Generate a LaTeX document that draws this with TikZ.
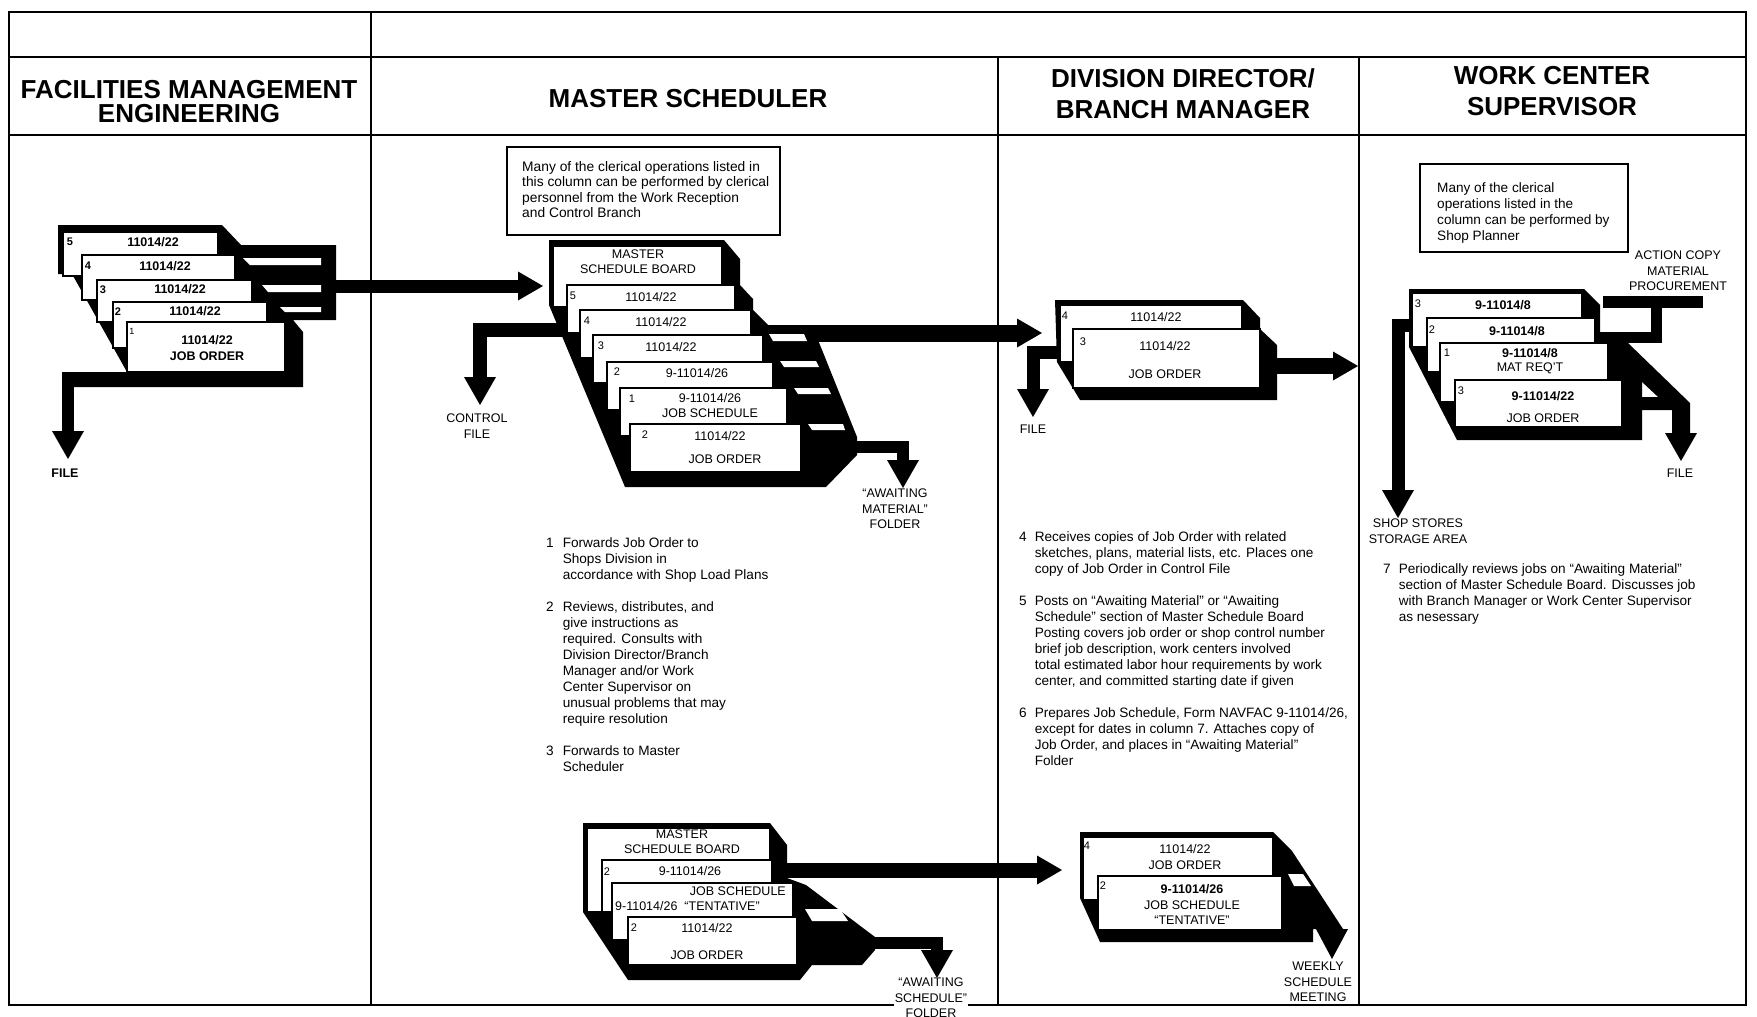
\documentclass[tikz,border=0pt]{standalone}
\usepackage{fontspec}
\setmainfont{Liberation Sans}
\usetikzlibrary{arrows.meta}
\newcommand\crd[4]{\filldraw[cardst] (#1,#2) rectangle (#3,#4);}
\begin{document}
\begin{tikzpicture}[x=1pt,y=-1pt,
 frame/.style={line width=2pt},
 cardst/.style={fill=white,draw=black,line width=1.3pt},
 mass/.style={fill=black},
 gap/.style={fill=white},
 band/.style={draw=black,line width=#1},
 flowv/.style={draw=black,line width=#1,-{Triangle[width=32pt,length=28pt,line width=0pt]}},
 flowh/.style={draw=black,line width=#1,-{Triangle[width=29pt,length=25pt,line width=0pt]}},
 hdr/.style={font=\fontsize{26}{24}\selectfont\bfseries,align=center,inner sep=0pt},
 body/.style={font=\fontsize{13.6}{16}\selectfont,inner sep=0pt},
 note/.style={font=\fontsize{13.8}{15.5}\selectfont,align=left,inner sep=0pt},
 lab/.style={font=\fontsize{12.5}{15.5}\selectfont,align=center,inner sep=0pt},
 ct/.style={font=\fontsize{12.5}{15}\selectfont,inner sep=0pt,align=center},
 cb/.style={font=\fontsize{12.5}{15}\selectfont\bfseries,inner sep=0pt,align=center},
 nm/.style={font=\fontsize{11}{13}\selectfont,inner sep=0pt},
]
\useasboundingbox (0,0) rectangle (1757,1017);
\fill[white] (0,0) rectangle (1757,1017);

% ---------------- frame ----------------
\draw[frame] (9,12) rectangle (1746,1005);
\draw[frame] (9,57) -- (1746,57);
\draw[frame] (9,135) -- (1746,135);
\draw[frame] (371,12) -- (371,1005);
\draw[frame] (998,57) -- (998,1005);
\draw[frame] (1359,57) -- (1359,1005);

\node[hdr] (h1) at (189,102) {FACILITIES MANAGEMENT\\ENGINEERING};
\node[hdr] (h2) at (688,99) {MASTER SCHEDULER};
\node[hdr,font=\fontsize{26}{31}\selectfont\bfseries] (h3) at (1183,94) {DIVISION DIRECTOR/\\BRANCH MANAGER};
\node[hdr,font=\fontsize{26}{31}\selectfont\bfseries] (h4) at (1552,91) {WORK CENTER\\SUPERVISOR};

% ---------------- FME stack ----------------
\fill[mass] (58,225) -- (222,225) -- (241,245) -- (336,245) -- (336,320) -- (293,320) -- (303,332) -- (303,387) -- (62,387) -- (62,372) -- (127,372) -- (72,274) -- (58,274) -- cycle;
\coordinate (fmeA) at (68,380);
\coordinate (fmeB) at (68,459);
\draw[flowv=12pt] (fmeA) -- (fmeB);
\coordinate (fmeOut) at (334,286);
\coordinate (msIn) at (543,286);
\draw[flowh=13pt] (fmeOut) -- (msIn);
\fill[gap] (243,258) -- (321,258) -- (321,265) -- (250,265) -- cycle;
\fill[gap] (262,285) -- (321,285) -- (321,292) -- (268,292) -- cycle;
\fill[gap] (280,307) -- (321,307) -- (321,312) -- (285,312) -- cycle;
\crd{63}{232}{218}{276}
\crd{82}{255}{235}{300}
\crd{97}{280}{252}{322}
\crd{113}{302}{267}{348}
\crd{127}{322}{285}{372}
\node[nm,font=\fontsize{11}{13}\selectfont\bfseries] (f5n) at (70,242) {5};
\node[cb] (f5t) at (153,242) {11014/22};
\node[nm,font=\fontsize{11}{13}\selectfont\bfseries] (f4n) at (88,266) {4};
\node[cb] (f4t) at (165,266) {11014/22};
\node[nm,font=\fontsize{11}{13}\selectfont\bfseries] (f3n) at (103,290) {3};
\node[cb] (f3t) at (180,289) {11014/22};
\node[nm,font=\fontsize{11}{13}\selectfont\bfseries] (f2n) at (118,312) {2};
\node[cb] (f2t) at (195,311) {11014/22};
\node[nm,font=\fontsize{9}{11}\selectfont] (f1n) at (132,331) {1};
\node[cb] (f1t) at (207,340) {11014/22};
\node[cb] (f1u) at (207,356) {JOB ORDER};
\node[lab,font=\fontsize{12.5}{15}\selectfont\bfseries] (fmefile) at (65,473) {FILE};

% ---------------- Master scheduler top ----------------
\draw[line width=1.3pt] (507,147) rectangle (780,235);
\node[note,anchor=north west] (msnote) at (522,161) {Many of the clerical operations listed in\\this column can be performed by clerical\\personnel from the Work Reception\\and Control Branch};

\fill[mass] (549,240) -- (724,240) -- (740,259) -- (740,285) -- (753,299) -- (753,310) -- (768,325) -- (812,325) -- (857,437) -- (857,455) -- (826,487) -- (625,487) -- (549,305) -- cycle;
\coordinate (ctrlA) at (570,330);
\coordinate (ctrlB) at (480,405);
\draw[flowv=14pt] (ctrlA) -- (ctrlB |- ctrlA) -- (ctrlB);
\coordinate (awA) at (850,447);
\coordinate (awB) at (903,488);
\draw[flowv=12pt] (awA) -- (awB |- awA) -- (awB);
\coordinate (msOut) at (805,333);
\coordinate (ddIn) at (1042,333);
\draw[flowh=17pt] (msOut) -- (ddIn);
\fill[gap] (769,334) -- (804,334) -- (807,341) -- (773,341) -- cycle;
\fill[gap] (780,361) -- (816,361) -- (819,367) -- (784,367) -- cycle;
\fill[gap] (794,388) -- (828,388) -- (831,394) -- (798,394) -- cycle;
\fill[gap] (808,424) -- (843,424) -- (845,430) -- (812,430) -- cycle;
\crd{553}{246}{722}{307}
\crd{567}{285}{735}{333}
\crd{580}{310}{751}{358}
\crd{593}{335}{763}{383}
\crd{607}{362}{773}{410}
\crd{620}{388}{787}{436}
\crd{630}{424}{801}{472}
\node[ct] (m0t) at (638,262) {MASTER\\SCHEDULE BOARD};
\node[nm] (m5n) at (573,296) {5};
\node[ct] (m5t) at (651,297) {11014/22};
\node[nm] (m4n) at (587,321) {4};
\node[ct] (m4t) at (661,322) {11014/22};
\node[nm] (m3n) at (601,346) {3};
\node[ct] (m3t) at (671,347) {11014/22};
\node[nm] (m2n) at (617,372) {2};
\node[ct] (m2t) at (697,373) {9-11014/26};
\node[nm] (m1n) at (632,399) {1};
\node[ct] (m1t) at (710,406) {9-11014/26\\JOB SCHEDULE};
\node[nm] (mjn) at (645,435) {2};
\node[ct] (mjt) at (720,436) {11014/22};
\node[ct] (mju) at (725,459) {JOB ORDER};
\node[lab] (ctrlfile) at (477,426) {CONTROL\\FILE};
\node[lab] (awmat) at (895,509) {``AWAITING\\MATERIAL''\\FOLDER};

\node[body,anchor=north west] (mstext) at (546,536) {%
\begin{tabular}{@{}l@{\hspace{9pt}}l@{}}
1 & Forwards Job Order to\\
  & Shops Division in\\
  & accordance with Shop Load Plans\\[16pt]
2 & Reviews, distributes, and\\
  & give instructions as\\
  & required. Consults with\\
  & Division Director/Branch\\
  & Manager and/or Work\\
  & Center Supervisor on\\
  & unusual problems that may\\
  & require resolution\\[16pt]
3 & Forwards to Master\\
  & Scheduler
\end{tabular}};

% ---------------- Division director top ----------------
\fill[mass] (1055,300) -- (1243,300) -- (1260,318) -- (1260,329) -- (1277,345) -- (1277,400) -- (1080,400) -- (1057,362) -- cycle;
\coordinate (ddfA) at (1065,352);
\coordinate (ddfB) at (1033,417);
\draw[flowv=13pt] (ddfA) -- (ddfB |- ddfA) -- (ddfB);
\coordinate (ddOut) at (1274,366);
\coordinate (wcIn) at (1358,366);
\draw[flowh=16pt] (ddOut) -- (wcIn);
\crd{1060}{305}{1242}{362}
\crd{1073}{329}{1260}{388}
\node[nm] (d4n) at (1065,316) {4};
\node[ct] (d4t) at (1156,317) {11014/22};
\node[nm] (d3n) at (1083,342) {3};
\node[ct] (d3t) at (1165,346) {11014/22};
\node[ct] (d3u) at (1165,374) {JOB ORDER};
\node[lab] (ddfile) at (1033,429) {FILE};

\node[body,anchor=north west] (ddtext) at (1019,530) {%
\begin{tabular}{@{}l@{\hspace{8pt}}l@{}}
4 & Receives copies of Job Order with related\\
  & sketches, plans, material lists, etc. Places one\\
  & copy of Job Order in Control File\\[16pt]
5 & Posts on ``Awaiting Material'' or ``Awaiting\\
  & Schedule'' section of Master Schedule Board\\
  & Posting covers job order or shop control number\\
  & brief job description, work centers involved\\
  & total estimated labor hour requirements by work\\
  & center, and committed starting date if given\\[16pt]
6 & Prepares Job Schedule, Form NAVFAC 9-11014/26,\\
  & except for dates in column 7. Attaches copy of\\
  & Job Order, and places in ``Awaiting Material''\\
  & Folder
\end{tabular}};

% ---------------- Work center ----------------
\draw[line width=1.3pt] (1420,164) rectangle (1628,252);
\node[note,font=\fontsize{13.6}{16}\selectfont,anchor=north west] (wcnote) at (1437,182) {Many of the clerical\\operations listed in the\\column can be performed by\\Shop Planner};

\fill[mass] (1409,289) -- (1584,289) -- (1600,305) -- (1600,343) -- (1622,343) -- (1642,380) -- (1642,397) -- (1680,397) -- (1680,410) -- (1642,410) -- (1642,440) -- (1457,440) -- (1409,347) -- cycle;
\fill[mass] (1606,343) -- (1628,343) -- (1690,403) -- (1690,433) -- (1697,433) -- (1681,461) -- (1665,433) -- (1672,433) -- (1672,410) -- (1610,352) -- cycle;
\coordinate (mpA) at (1598,337);
\coordinate (mpB) at (1656,302);
\draw[band=11pt] (mpA) -- (mpB |- mpA) -- (mpB);
\fill (1603,296) rectangle (1703,308);
\coordinate (ssA) at (1414,325);
\coordinate (ssB) at (1398,518);
\draw[flowv=13pt] (ssA) -- (ssB |- ssA) -- (ssB);
\crd{1412}{293}{1582}{347}
\crd{1427}{318}{1595}{372}
\crd{1440}{343}{1608}{402}
\crd{1455}{380}{1622}{427}
\node[nm] (w3n) at (1418,304) {3};
\node[cb] (w3t) at (1503,305) {9-11014/8};
\node[nm] (w2n) at (1432,330) {2};
\node[cb] (w2t) at (1517,331) {9-11014/8};
\node[nm] (w1n) at (1447,353) {1};
\node[cb] (w1t) at (1530,353) {9-11014/8};
\node[ct] (w1u) at (1530,368) {MAT REQ'T};
\node[nm] (wjn) at (1461,391) {3};
\node[cb] (wjt) at (1543,396) {9-11014/22};
\node[ct] (wju) at (1543,418) {JOB ORDER};
\node[lab] (actcopy) at (1678,271) {ACTION COPY\\MATERIAL\\PROCUREMENT};
\node[lab] (wcfile) at (1680,473) {FILE};
\node[lab] (shop) at (1418,531) {SHOP STORES\\STORAGE AREA};

\node[body,anchor=north west] (wctext) at (1383,562) {%
\begin{tabular}{@{}l@{\hspace{8pt}}l@{}}
7 & Periodically reviews jobs on ``Awaiting Material''\\
  & section of Master Schedule Board. Discusses job\\
  & with Branch Manager or Work Center Supervisor\\
  & as nesessary
\end{tabular}};

% ---------------- Master scheduler bottom ----------------
\fill[mass] (583,823) -- (770,823) -- (787,845) -- (787,878) -- (806,885) -- (875,937) -- (875,950) -- (862,965) -- (812,965) -- (800,980) -- (628,980) -- (583,912) -- cycle;
\coordinate (asA) at (862,943);
\coordinate (asB) at (937,978);
\draw[flowv=12pt] (asA) -- (asB |- asA) -- (asB);
\coordinate (ms2Out) at (785,870);
\coordinate (dd2In) at (1062,870);
\draw[flowh=15pt] (ms2Out) -- (dd2In);
\fill[gap] (805,909) -- (840,909) -- (848,921) -- (812,921) -- cycle;
\crd{587}{828}{770}{912}
\crd{602}{860}{772}{912}
\crd{612}{883}{793}{940}
\crd{628}{917}{797}{965}
\node[ct] (b0t) at (682,842) {MASTER\\SCHEDULE BOARD};
\node[nm] (b2n) at (607,872) {2};
\node[ct] (b2t) at (690,871) {9-11014/26};
\node[ct,anchor=east] (bst) at (786,891) {JOB SCHEDULE};
\node[ct,anchor=west] (bsu) at (615,906) {9-11014/26 \ ``TENTATIVE''};
\node[nm] (bjn) at (634,928) {2};
\node[ct] (bjt) at (707,928) {11014/22};
\node[ct] (bju) at (707,955) {JOB ORDER};
\node[lab,fill=white,inner sep=1pt] (awsch) at (931,998) {``AWAITING\\SCHEDULE''\\FOLDER};

% ---------------- Division director bottom ----------------
\fill[mass] (1080,832) -- (1273,832) -- (1292,851) -- (1343,929) -- (1348,929) -- (1332,959) -- (1316,929) -- (1313,929) -- (1313,942) -- (1100,942) -- (1080,898) -- cycle;
\fill[gap] (1288,874) -- (1303,874) -- (1311,886) -- (1294,886) -- cycle;
\crd{1083}{837}{1273}{900}
\crd{1098}{876}{1282}{930}
\node[nm] (e4n) at (1087,846) {4};
\node[ct] (e4t) at (1185,849) {11014/22};
\node[ct] (e4u) at (1185,865) {JOB ORDER};
\node[nm] (e2n) at (1103,886) {2};
\node[cb] (e2t) at (1192,889) {9-11014/26};
\node[ct] (e2u) at (1192,905) {JOB SCHEDULE};
\node[ct] (e2v) at (1192,920) {``TENTATIVE''};
\node[lab] (weekly) at (1318,982) {WEEKLY\\SCHEDULE\\MEETING};
\end{tikzpicture}
\end{document}
